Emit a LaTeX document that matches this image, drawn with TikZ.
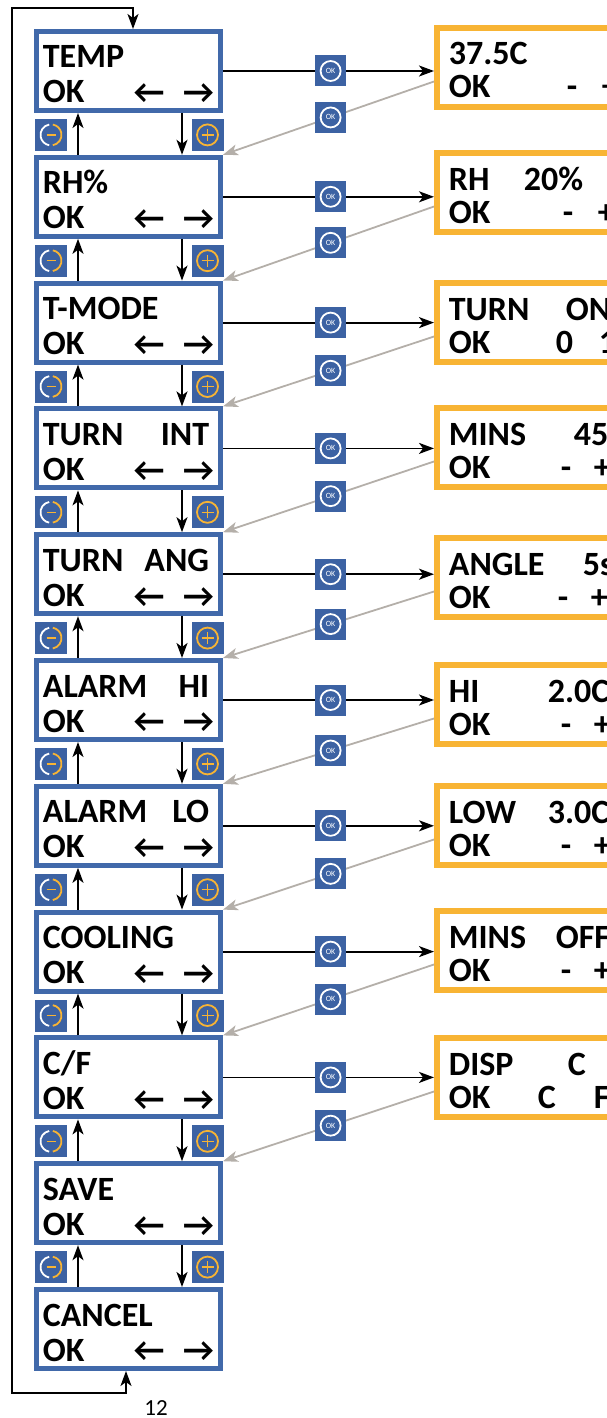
\documentclass[tikz,border=0pt]{standalone}
\usepackage{fontspec}
\setmainfont{Carlito}
\usetikzlibrary{calc}
\usetikzlibrary{arrows.meta}
\definecolor{boxblue}{HTML}{4169AA}
\definecolor{btnblue}{HTML}{3C62A3}
\definecolor{valorange}{HTML}{F8B434}
\definecolor{backgrey}{HTML}{B4AFA9}

\tikzset{
  menubox/.style={draw=boxblue, line width=5pt, minimum width=184pt, minimum height=79pt, inner sep=0pt},
  valbox/.style={draw=valorange, line width=6pt, minimum width=190pt, minimum height=79pt, inner sep=0pt},
  lcd/.style={font=\fontsize{34}{34}\selectfont\bfseries, inner sep=0pt},
  lcdarrow/.style={font=\fontsize{34}{34}\selectfont\bfseries, inner sep=0pt},
  okbtn/.style={fill=btnblue, minimum size=31pt, inner sep=0pt, text=white, font=\fontsize{8}{8}\selectfont,
    path picture={\draw[white,line width=1.8pt] (path picture bounding box.center) circle (10pt);}},
  minusbtn/.style={fill=btnblue, minimum size=32pt, inner sep=0pt,
    path picture={
      \draw[white,line width=1.8pt] ([shift={(100:10.5pt)}]path picture bounding box.center) arc[start angle=100,end angle=260,radius=10.5pt];
      \draw[valorange,line width=1.8pt] ([shift={(-80:10.5pt)}]path picture bounding box.center) arc[start angle=-80,end angle=80,radius=10.5pt];
      \draw[valorange,line width=1.4pt] ([xshift=-4.5pt]path picture bounding box.center) -- ([xshift=4.5pt]path picture bounding box.center);}},
  plusbtn/.style={fill=btnblue, minimum size=32pt, inner sep=0pt,
    path picture={
      \draw[valorange,line width=1.8pt] (path picture bounding box.center) circle (10.5pt);
      \draw[valorange,line width=1.4pt] ([xshift=-6pt]path picture bounding box.center) -- ([xshift=6pt]path picture bounding box.center);
      \draw[valorange,line width=1.4pt] ([yshift=-6pt]path picture bounding box.center) -- ([yshift=6pt]path picture bounding box.center);}},
  >={Stealth[length=15pt,width=11pt,inset=4pt]}
}

\begin{document}
\begin{tikzpicture}[x=1pt,y=-1pt,line width=1.8pt]
    \clip (0,0) rectangle (607,1418);
    % menu screens
    \foreach \i/\ta/\tb in {1/TEMP/{},2/RH\%/{},3/T-MODE/{},4/TURN/INT,5/TURN/ANG,6/ALARM/HI,7/ALARM/LO,8/COOLING/{},9/{C/F}/{},10/SAVE/{},11/CANCEL/{}}{
        \node[menubox] (L\i) at (128.5,{71+125.8*(\i-1)}) {};
        \node[lcd,anchor=base west] (L\i-a) at ($(L\i.center)+(-86.5,-3)$) {\ta};
        \node[lcd,anchor=base east] (L\i-b) at ($(L\i.center)+(81.5,-3)$) {\tb};
        \node[lcd,anchor=base west] (L\i-ok) at ($(L\i.center)+(-86.5,32)$) {OK};
        \node[lcdarrow] (L\i-l) at ($(L\i.center)+(20.5,23)$) {←};
        \node[lcdarrow] (L\i-r) at ($(L\i.center)+(70,23)$) {→};
    }
    % value screens
    \foreach \i/\y/\va/\vb/\xb/\vc/\xc/\vd/\xd in {1/25/37.5C/{}/0/-/566/+/601,2/150/RH/20\%/523/-/562/+/597,3/280/TURN/ON/565/0/555/1/598,4/405/MINS/45/573/-/560/+/593,5/535/ANGLE/5s/582/-/557/+/590,6/662/HI/2.0C/547/-/560/+/593,7/783/LOW/3.0C/547/-/560/+/593,8/908/MINS/OFF/555/-/560/+/593,9/1035/DISP/C/567/C/537/F/593}{
        \node[valbox] (R\i) at (532,{\y+42.5}) {};
        \node[lcd,anchor=base west] (R\i-a) at (448,{\y+40}) {\va};
        \node[lcd,anchor=base west] (R\i-b) at (\xb,{\y+40}) {\vb};
        \node[lcd,anchor=base west] (R\i-ok) at (448,{\y+73}) {OK};
        \node[lcd,anchor=base west] (R\i-c) at (\xc,{\y+73}) {\vc};
        \node[lcd,anchor=base west] (R\i-d) at (\xd,{\y+73}) {\vd};
    }
    % up / down between screens
    \foreach \i [evaluate=\i as \j using int(\i+1)] in {1,...,10}{
        \draw[->] ($(L\j.north west)+(44,0)$) -- ($(L\i.south west)+(44,0)$);
        \draw[->] ($(L\i.south west)+(148,0)$) -- ($(L\j.north west)+(148,0)$);
        \node[minusbtn] (m\i) at ($(L\i.south west)!0.5!(L\j.north west)+(17,1)$) {};
        \node[plusbtn] (p\i) at ($(L\i.south east)!0.5!(L\j.north east)+(-15.5,1)$) {};
    }
    % enter and back
    \foreach \i [evaluate=\i as \j using int(\i+1)] in {1,...,9}{
        \draw[->] (L\i.east) -- (L\i.east -| R\i.west) node[okbtn,pos=0.51] (ok\i-a) {OK};
        \draw[->,backgrey] ($(R\i.west)+(0,14)$) -- (L\j.north east) node[okbtn,pos=0.49] (ok\i-b) {OK};
    }
    % wrap round
    \coordinate (wrapA) at (12,1393);
    \coordinate (wrapB) at (12,8);
    \draw[<->] ($(L11.south west)+(92,0)$) |- (wrapA) -- (wrapB) -| ($(L1.north west)+(99,0)$);
    \node (pagenum) at (156,1408) {\fontsize{23}{23}\selectfont 12};
\end{tikzpicture}
\end{document}
